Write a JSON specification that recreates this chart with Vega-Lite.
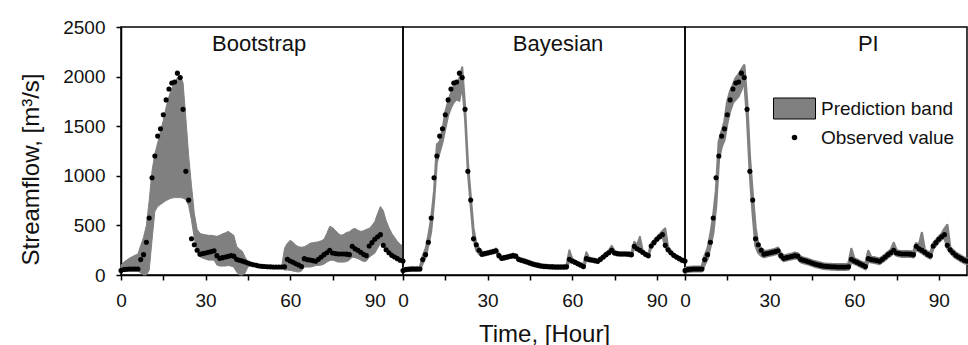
{
"$schema": "https://vega.github.io/schema/vega-lite/v6.json",
"padding": {"left": 18, "top": 17, "right": 2, "bottom": 0},
"data": {"values": [
{"m":"Bootstrap","h":0,"o":45,"lo":30,"hi":100},{"m":"Bootstrap","h":1,"o":55,"lo":35,"hi":130},{"m":"Bootstrap","h":2,"o":58,"lo":40,"hi":150},{"m":"Bootstrap","h":3,"o":60,"lo":40,"hi":170},{"m":"Bootstrap","h":4,"o":60,"lo":40,"hi":185},{"m":"Bootstrap","h":5,"o":60,"lo":40,"hi":200},{"m":"Bootstrap","h":6,"o":60,"lo":40,"hi":210},{"m":"Bootstrap","h":7,"o":155,"lo":20,"hi":300},{"m":"Bootstrap","h":8,"o":205,"lo":0,"hi":380},{"m":"Bootstrap","h":9,"o":330,"lo":0,"hi":500},
{"m":"Bootstrap","h":10,"o":575,"lo":50,"hi":750},{"m":"Bootstrap","h":11,"o":980,"lo":350,"hi":1050},{"m":"Bootstrap","h":12,"o":1200,"lo":640,"hi":1220},{"m":"Bootstrap","h":13,"o":1400,"lo":690,"hi":1330},{"m":"Bootstrap","h":14,"o":1475,"lo":710,"hi":1450},{"m":"Bootstrap","h":15,"o":1615,"lo":730,"hi":1560},{"m":"Bootstrap","h":16,"o":1765,"lo":750,"hi":1690},{"m":"Bootstrap","h":17,"o":1875,"lo":765,"hi":1800},{"m":"Bootstrap","h":18,"o":1935,"lo":775,"hi":1880},{"m":"Bootstrap","h":19,"o":1945,"lo":780,"hi":1940},
{"m":"Bootstrap","h":20,"o":2035,"lo":780,"hi":1990},{"m":"Bootstrap","h":21,"o":1990,"lo":780,"hi":2000},{"m":"Bootstrap","h":22,"o":1670,"lo":775,"hi":1940},{"m":"Bootstrap","h":23,"o":1045,"lo":760,"hi":1580},{"m":"Bootstrap","h":24,"o":755,"lo":700,"hi":1200},{"m":"Bootstrap","h":25,"o":365,"lo":550,"hi":900},{"m":"Bootstrap","h":26,"o":305,"lo":370,"hi":620},{"m":"Bootstrap","h":27,"o":250,"lo":240,"hi":460},{"m":"Bootstrap","h":28,"o":210,"lo":185,"hi":420},{"m":"Bootstrap","h":29,"o":215,"lo":170,"hi":410},
{"m":"Bootstrap","h":30,"o":222,"lo":160,"hi":405},{"m":"Bootstrap","h":31,"o":229,"lo":150,"hi":400},{"m":"Bootstrap","h":32,"o":236,"lo":150,"hi":400},{"m":"Bootstrap","h":33,"o":245,"lo":150,"hi":395},{"m":"Bootstrap","h":34,"o":195,"lo":100,"hi":390},{"m":"Bootstrap","h":35,"o":168,"lo":90,"hi":400},{"m":"Bootstrap","h":36,"o":175,"lo":90,"hi":415},{"m":"Bootstrap","h":37,"o":182,"lo":90,"hi":425},{"m":"Bootstrap","h":38,"o":188,"lo":95,"hi":440},{"m":"Bootstrap","h":39,"o":195,"lo":90,"hi":420},
{"m":"Bootstrap","h":40,"o":190,"lo":80,"hi":400},{"m":"Bootstrap","h":41,"o":158,"lo":30,"hi":290},{"m":"Bootstrap","h":42,"o":148,"lo":0,"hi":260},{"m":"Bootstrap","h":43,"o":140,"lo":0,"hi":240},{"m":"Bootstrap","h":44,"o":131,"lo":20,"hi":180},{"m":"Bootstrap","h":45,"o":121,"lo":80,"hi":135},{"m":"Bootstrap","h":46,"o":111,"lo":100,"hi":120},{"m":"Bootstrap","h":47,"o":104,"lo":96,"hi":112},{"m":"Bootstrap","h":48,"o":97,"lo":90,"hi":104},{"m":"Bootstrap","h":49,"o":90,"lo":84,"hi":96},
{"m":"Bootstrap","h":50,"o":87,"lo":81,"hi":93},{"m":"Bootstrap","h":51,"o":85,"lo":79,"hi":91},{"m":"Bootstrap","h":52,"o":83,"lo":77,"hi":89},{"m":"Bootstrap","h":53,"o":82,"lo":76,"hi":88},{"m":"Bootstrap","h":54,"o":81,"lo":75,"hi":87},{"m":"Bootstrap","h":55,"o":81,"lo":75,"hi":87},{"m":"Bootstrap","h":56,"o":81,"lo":75,"hi":87},{"m":"Bootstrap","h":57,"o":81,"lo":75,"hi":90},{"m":"Bootstrap","h":58,"o":82,"lo":50,"hi":270},{"m":"Bootstrap","h":59,"o":158,"lo":50,"hi":320},
{"m":"Bootstrap","h":60,"o":141,"lo":47,"hi":350},{"m":"Bootstrap","h":61,"o":128,"lo":40,"hi":330},{"m":"Bootstrap","h":62,"o":114,"lo":35,"hi":300},{"m":"Bootstrap","h":63,"o":101,"lo":30,"hi":285},{"m":"Bootstrap","h":64,"o":85,"lo":40,"hi":280},{"m":"Bootstrap","h":65,"o":165,"lo":80,"hi":285},{"m":"Bootstrap","h":66,"o":155,"lo":80,"hi":300},{"m":"Bootstrap","h":67,"o":151,"lo":80,"hi":320},{"m":"Bootstrap","h":68,"o":145,"lo":85,"hi":325},{"m":"Bootstrap","h":69,"o":138,"lo":95,"hi":330},
{"m":"Bootstrap","h":70,"o":158,"lo":97,"hi":335},{"m":"Bootstrap","h":71,"o":181,"lo":100,"hi":345},{"m":"Bootstrap","h":72,"o":205,"lo":110,"hi":360},{"m":"Bootstrap","h":73,"o":225,"lo":130,"hi":420},{"m":"Bootstrap","h":74,"o":249,"lo":145,"hi":490},{"m":"Bootstrap","h":75,"o":222,"lo":150,"hi":480},{"m":"Bootstrap","h":76,"o":215,"lo":140,"hi":450},{"m":"Bootstrap","h":77,"o":212,"lo":130,"hi":420},{"m":"Bootstrap","h":78,"o":212,"lo":130,"hi":400},{"m":"Bootstrap","h":79,"o":212,"lo":130,"hi":410},
{"m":"Bootstrap","h":80,"o":210,"lo":135,"hi":430},{"m":"Bootstrap","h":81,"o":205,"lo":150,"hi":435},{"m":"Bootstrap","h":82,"o":289,"lo":180,"hi":460},{"m":"Bootstrap","h":83,"o":265,"lo":175,"hi":470},{"m":"Bootstrap","h":84,"o":249,"lo":165,"hi":450},{"m":"Bootstrap","h":85,"o":229,"lo":150,"hi":440},{"m":"Bootstrap","h":86,"o":208,"lo":135,"hi":445},{"m":"Bootstrap","h":87,"o":195,"lo":140,"hi":460},{"m":"Bootstrap","h":88,"o":292,"lo":180,"hi":470},{"m":"Bootstrap","h":89,"o":326,"lo":200,"hi":500},
{"m":"Bootstrap","h":90,"o":360,"lo":220,"hi":540},{"m":"Bootstrap","h":91,"o":386,"lo":270,"hi":620},{"m":"Bootstrap","h":92,"o":407,"lo":320,"hi":690},{"m":"Bootstrap","h":93,"o":299,"lo":300,"hi":650},{"m":"Bootstrap","h":94,"o":255,"lo":250,"hi":550},{"m":"Bootstrap","h":95,"o":225,"lo":220,"hi":480},{"m":"Bootstrap","h":96,"o":198,"lo":190,"hi":420},{"m":"Bootstrap","h":97,"o":181,"lo":170,"hi":380},{"m":"Bootstrap","h":98,"o":165,"lo":155,"hi":340},{"m":"Bootstrap","h":99,"o":148,"lo":140,"hi":310},{"m":"Bootstrap","h":100,"o":140,"lo":130,"hi":290},

{"m":"Bayesian","h":0,"o":45,"lo":27,"hi":63},{"m":"Bayesian","h":1,"o":55,"lo":37,"hi":73},{"m":"Bayesian","h":2,"o":58,"lo":40,"hi":76},{"m":"Bayesian","h":3,"o":60,"lo":42,"hi":78},{"m":"Bayesian","h":4,"o":60,"lo":42,"hi":78},{"m":"Bayesian","h":5,"o":60,"lo":42,"hi":78},{"m":"Bayesian","h":6,"o":60,"lo":42,"hi":82},{"m":"Bayesian","h":7,"o":155,"lo":115,"hi":195},{"m":"Bayesian","h":8,"o":205,"lo":175,"hi":265},{"m":"Bayesian","h":9,"o":330,"lo":295,"hi":405},
{"m":"Bayesian","h":10,"o":575,"lo":435,"hi":575},{"m":"Bayesian","h":11,"o":980,"lo":725,"hi":845},{"m":"Bayesian","h":12,"o":1200,"lo":1135,"hi":1315},{"m":"Bayesian","h":13,"o":1400,"lo":1235,"hi":1345},{"m":"Bayesian","h":14,"o":1475,"lo":1335,"hi":1465},{"m":"Bayesian","h":15,"o":1615,"lo":1475,"hi":1645},{"m":"Bayesian","h":16,"o":1765,"lo":1605,"hi":1750},{"m":"Bayesian","h":17,"o":1875,"lo":1685,"hi":1835},{"m":"Bayesian","h":18,"o":1935,"lo":1740,"hi":1900},{"m":"Bayesian","h":19,"o":1945,"lo":1770,"hi":1920},
{"m":"Bayesian","h":20,"o":2035,"lo":1755,"hi":1985},{"m":"Bayesian","h":21,"o":1990,"lo":1905,"hi":2095},{"m":"Bayesian","h":22,"o":1670,"lo":1570,"hi":1715},{"m":"Bayesian","h":23,"o":1045,"lo":1030,"hi":1145},{"m":"Bayesian","h":24,"o":755,"lo":695,"hi":810},{"m":"Bayesian","h":25,"o":365,"lo":360,"hi":475},{"m":"Bayesian","h":26,"o":305,"lo":245,"hi":320},{"m":"Bayesian","h":27,"o":250,"lo":210,"hi":270},{"m":"Bayesian","h":28,"o":210,"lo":190,"hi":237},{"m":"Bayesian","h":29,"o":215,"lo":197,"hi":233},
{"m":"Bayesian","h":30,"o":222,"lo":204,"hi":240},{"m":"Bayesian","h":31,"o":229,"lo":211,"hi":247},{"m":"Bayesian","h":32,"o":236,"lo":218,"hi":254},{"m":"Bayesian","h":33,"o":245,"lo":227,"hi":268},{"m":"Bayesian","h":34,"o":195,"lo":177,"hi":221},{"m":"Bayesian","h":35,"o":168,"lo":150,"hi":188},{"m":"Bayesian","h":36,"o":175,"lo":157,"hi":193},{"m":"Bayesian","h":37,"o":182,"lo":164,"hi":200},{"m":"Bayesian","h":38,"o":188,"lo":170,"hi":206},{"m":"Bayesian","h":39,"o":195,"lo":177,"hi":216},
{"m":"Bayesian","h":40,"o":190,"lo":172,"hi":208},{"m":"Bayesian","h":41,"o":158,"lo":140,"hi":178},{"m":"Bayesian","h":42,"o":148,"lo":130,"hi":166},{"m":"Bayesian","h":43,"o":140,"lo":122,"hi":158},{"m":"Bayesian","h":44,"o":131,"lo":113,"hi":149},{"m":"Bayesian","h":45,"o":121,"lo":103,"hi":139},{"m":"Bayesian","h":46,"o":111,"lo":93,"hi":129},{"m":"Bayesian","h":47,"o":104,"lo":86,"hi":122},{"m":"Bayesian","h":48,"o":97,"lo":79,"hi":115},{"m":"Bayesian","h":49,"o":90,"lo":72,"hi":108},
{"m":"Bayesian","h":50,"o":87,"lo":69,"hi":105},{"m":"Bayesian","h":51,"o":85,"lo":67,"hi":103},{"m":"Bayesian","h":52,"o":83,"lo":65,"hi":101},{"m":"Bayesian","h":53,"o":82,"lo":64,"hi":100},{"m":"Bayesian","h":54,"o":81,"lo":63,"hi":99},{"m":"Bayesian","h":55,"o":81,"lo":63,"hi":99},{"m":"Bayesian","h":56,"o":81,"lo":63,"hi":99},{"m":"Bayesian","h":57,"o":81,"lo":63,"hi":99},{"m":"Bayesian","h":58,"o":82,"lo":64,"hi":105},{"m":"Bayesian","h":59,"o":158,"lo":135,"hi":250},
{"m":"Bayesian","h":60,"o":141,"lo":123,"hi":165},{"m":"Bayesian","h":61,"o":128,"lo":110,"hi":146},{"m":"Bayesian","h":62,"o":114,"lo":96,"hi":132},{"m":"Bayesian","h":63,"o":101,"lo":83,"hi":119},{"m":"Bayesian","h":64,"o":85,"lo":67,"hi":106},{"m":"Bayesian","h":65,"o":165,"lo":145,"hi":230},{"m":"Bayesian","h":66,"o":155,"lo":137,"hi":176},{"m":"Bayesian","h":67,"o":151,"lo":133,"hi":169},{"m":"Bayesian","h":68,"o":145,"lo":127,"hi":163},{"m":"Bayesian","h":69,"o":138,"lo":120,"hi":156},
{"m":"Bayesian","h":70,"o":158,"lo":140,"hi":178},{"m":"Bayesian","h":71,"o":181,"lo":163,"hi":201},{"m":"Bayesian","h":72,"o":205,"lo":187,"hi":226},{"m":"Bayesian","h":73,"o":225,"lo":207,"hi":250},{"m":"Bayesian","h":74,"o":249,"lo":231,"hi":295},{"m":"Bayesian","h":75,"o":222,"lo":204,"hi":246},{"m":"Bayesian","h":76,"o":215,"lo":197,"hi":233},{"m":"Bayesian","h":77,"o":212,"lo":194,"hi":230},{"m":"Bayesian","h":78,"o":212,"lo":194,"hi":230},{"m":"Bayesian","h":79,"o":212,"lo":194,"hi":230},
{"m":"Bayesian","h":80,"o":210,"lo":192,"hi":228},{"m":"Bayesian","h":81,"o":205,"lo":187,"hi":226},{"m":"Bayesian","h":82,"o":289,"lo":269,"hi":335},{"m":"Bayesian","h":83,"o":265,"lo":247,"hi":305},{"m":"Bayesian","h":84,"o":249,"lo":231,"hi":385},{"m":"Bayesian","h":85,"o":229,"lo":211,"hi":250},{"m":"Bayesian","h":86,"o":208,"lo":190,"hi":226},{"m":"Bayesian","h":87,"o":195,"lo":177,"hi":216},{"m":"Bayesian","h":88,"o":292,"lo":272,"hi":316},{"m":"Bayesian","h":89,"o":326,"lo":306,"hi":351},
{"m":"Bayesian","h":90,"o":360,"lo":340,"hi":384},{"m":"Bayesian","h":91,"o":386,"lo":366,"hi":411},{"m":"Bayesian","h":92,"o":407,"lo":387,"hi":446},{"m":"Bayesian","h":93,"o":299,"lo":281,"hi":470},{"m":"Bayesian","h":94,"o":255,"lo":237,"hi":286},{"m":"Bayesian","h":95,"o":225,"lo":207,"hi":246},{"m":"Bayesian","h":96,"o":198,"lo":180,"hi":216},{"m":"Bayesian","h":97,"o":181,"lo":163,"hi":199},{"m":"Bayesian","h":98,"o":165,"lo":147,"hi":183},{"m":"Bayesian","h":99,"o":148,"lo":130,"hi":166},{"m":"Bayesian","h":100,"o":140,"lo":122,"hi":158},

{"m":"PI","h":0,"o":45,"lo":22,"hi":68},{"m":"PI","h":1,"o":55,"lo":32,"hi":78},{"m":"PI","h":2,"o":58,"lo":35,"hi":81},{"m":"PI","h":3,"o":60,"lo":37,"hi":83},{"m":"PI","h":4,"o":60,"lo":37,"hi":83},{"m":"PI","h":5,"o":60,"lo":37,"hi":83},{"m":"PI","h":6,"o":60,"lo":37,"hi":87},{"m":"PI","h":7,"o":155,"lo":105,"hi":195},{"m":"PI","h":8,"o":205,"lo":165,"hi":265},{"m":"PI","h":9,"o":330,"lo":285,"hi":405},
{"m":"PI","h":10,"o":575,"lo":425,"hi":585},{"m":"PI","h":11,"o":980,"lo":695,"hi":845},{"m":"PI","h":12,"o":1200,"lo":1165,"hi":1345},{"m":"PI","h":13,"o":1400,"lo":1295,"hi":1445},{"m":"PI","h":14,"o":1475,"lo":1365,"hi":1545},{"m":"PI","h":15,"o":1615,"lo":1535,"hi":1745},{"m":"PI","h":16,"o":1765,"lo":1655,"hi":1850},{"m":"PI","h":17,"o":1875,"lo":1740,"hi":1915},{"m":"PI","h":18,"o":1935,"lo":1770,"hi":1985},{"m":"PI","h":19,"o":1945,"lo":1805,"hi":2020},
{"m":"PI","h":20,"o":2035,"lo":1870,"hi":2070},{"m":"PI","h":21,"o":1990,"lo":1970,"hi":2115},{"m":"PI","h":22,"o":1670,"lo":1600,"hi":1750},{"m":"PI","h":23,"o":1045,"lo":1030,"hi":1180},{"m":"PI","h":24,"o":755,"lo":630,"hi":810},{"m":"PI","h":25,"o":365,"lo":295,"hi":475},{"m":"PI","h":26,"o":305,"lo":225,"hi":305},{"m":"PI","h":27,"o":250,"lo":195,"hi":270},{"m":"PI","h":28,"o":210,"lo":180,"hi":245},{"m":"PI","h":29,"o":215,"lo":188,"hi":242},
{"m":"PI","h":30,"o":222,"lo":195,"hi":249},{"m":"PI","h":31,"o":229,"lo":202,"hi":256},{"m":"PI","h":32,"o":236,"lo":209,"hi":263},{"m":"PI","h":33,"o":245,"lo":218,"hi":275},{"m":"PI","h":34,"o":195,"lo":168,"hi":222},{"m":"PI","h":35,"o":168,"lo":141,"hi":195},{"m":"PI","h":36,"o":175,"lo":148,"hi":202},{"m":"PI","h":37,"o":182,"lo":155,"hi":209},{"m":"PI","h":38,"o":188,"lo":161,"hi":215},{"m":"PI","h":39,"o":195,"lo":168,"hi":225},
{"m":"PI","h":40,"o":190,"lo":163,"hi":217},{"m":"PI","h":41,"o":158,"lo":131,"hi":185},{"m":"PI","h":42,"o":148,"lo":121,"hi":175},{"m":"PI","h":43,"o":140,"lo":113,"hi":167},{"m":"PI","h":44,"o":131,"lo":104,"hi":158},{"m":"PI","h":45,"o":121,"lo":94,"hi":148},{"m":"PI","h":46,"o":111,"lo":84,"hi":138},{"m":"PI","h":47,"o":104,"lo":77,"hi":131},{"m":"PI","h":48,"o":97,"lo":70,"hi":124},{"m":"PI","h":49,"o":90,"lo":63,"hi":117},
{"m":"PI","h":50,"o":87,"lo":60,"hi":114},{"m":"PI","h":51,"o":85,"lo":58,"hi":112},{"m":"PI","h":52,"o":83,"lo":56,"hi":110},{"m":"PI","h":53,"o":82,"lo":55,"hi":109},{"m":"PI","h":54,"o":81,"lo":54,"hi":108},{"m":"PI","h":55,"o":81,"lo":54,"hi":108},{"m":"PI","h":56,"o":81,"lo":54,"hi":108},{"m":"PI","h":57,"o":81,"lo":54,"hi":108},{"m":"PI","h":58,"o":82,"lo":55,"hi":115},{"m":"PI","h":59,"o":158,"lo":131,"hi":262},
{"m":"PI","h":60,"o":141,"lo":114,"hi":168},{"m":"PI","h":61,"o":128,"lo":101,"hi":155},{"m":"PI","h":62,"o":114,"lo":87,"hi":141},{"m":"PI","h":63,"o":101,"lo":74,"hi":128},{"m":"PI","h":64,"o":85,"lo":58,"hi":115},{"m":"PI","h":65,"o":165,"lo":138,"hi":242},{"m":"PI","h":66,"o":155,"lo":128,"hi":182},{"m":"PI","h":67,"o":151,"lo":124,"hi":178},{"m":"PI","h":68,"o":145,"lo":118,"hi":172},{"m":"PI","h":69,"o":138,"lo":111,"hi":165},
{"m":"PI","h":70,"o":158,"lo":131,"hi":185},{"m":"PI","h":71,"o":181,"lo":154,"hi":208},{"m":"PI","h":72,"o":205,"lo":178,"hi":232},{"m":"PI","h":73,"o":225,"lo":198,"hi":255},{"m":"PI","h":74,"o":249,"lo":222,"hi":323},{"m":"PI","h":75,"o":222,"lo":195,"hi":249},{"m":"PI","h":76,"o":215,"lo":188,"hi":242},{"m":"PI","h":77,"o":212,"lo":185,"hi":239},{"m":"PI","h":78,"o":212,"lo":185,"hi":239},{"m":"PI","h":79,"o":212,"lo":185,"hi":239},
{"m":"PI","h":80,"o":210,"lo":183,"hi":237},{"m":"PI","h":81,"o":205,"lo":178,"hi":235},{"m":"PI","h":82,"o":289,"lo":262,"hi":320},{"m":"PI","h":83,"o":265,"lo":238,"hi":305},{"m":"PI","h":84,"o":249,"lo":222,"hi":423},{"m":"PI","h":85,"o":229,"lo":202,"hi":256},{"m":"PI","h":86,"o":208,"lo":181,"hi":235},{"m":"PI","h":87,"o":195,"lo":168,"hi":222},{"m":"PI","h":88,"o":292,"lo":265,"hi":319},{"m":"PI","h":89,"o":326,"lo":299,"hi":353},
{"m":"PI","h":90,"o":360,"lo":333,"hi":387},{"m":"PI","h":91,"o":386,"lo":359,"hi":415},{"m":"PI","h":92,"o":407,"lo":380,"hi":465},{"m":"PI","h":93,"o":299,"lo":272,"hi":504},{"m":"PI","h":94,"o":255,"lo":228,"hi":282},{"m":"PI","h":95,"o":225,"lo":198,"hi":252},{"m":"PI","h":96,"o":198,"lo":171,"hi":225},{"m":"PI","h":97,"o":181,"lo":154,"hi":208},{"m":"PI","h":98,"o":165,"lo":138,"hi":192},{"m":"PI","h":99,"o":148,"lo":121,"hi":175},{"m":"PI","h":100,"o":140,"lo":113,"hi":167}
]},
"spacing": 0,
"bounds": "flush",
"hconcat": [
  {
    "width": 282, "height": 248,
    "transform": [{"filter": "datum.m == 'Bootstrap'"}],
    "layer": [
      {"mark": {"type": "area", "color": "#808080", "stroke": "#808080", "strokeWidth": 1},
       "encoding": {
        "x": {"field": "h", "type": "quantitative", "title": null, "scale": {"domain": [0, 100], "nice": false}, "axis": {"values": [0, 15, 30, 45, 60, 75, 90], "labelExpr": "datum.value % 30 == 0 ? datum.label : ''", "labelFlush": false}},
        "y": {"field": "hi", "type": "quantitative", "title": "Streamflow, [m³/s]", "scale": {"domain": [0, 2500], "nice": false}, "axis": {"values": [0, 250, 500, 750, 1000, 1250, 1500, 1750, 2000, 2250, 2500], "format": "d", "labelExpr": "datum.value % 500 == 0 ? datum.label : ''", "titleY": 142, "titlePadding": 19}},
        "y2": {"field": "lo"}}},
      {"mark": {"type": "point", "filled": true, "size": 26, "opacity": 1, "color": "#000"},
       "encoding": {
        "x": {"field": "h", "type": "quantitative", "title": null},
        "y": {"field": "o", "type": "quantitative", "title": "Streamflow, [m³/s]"}}},
      {"transform": [{"filter": "datum.h == 0"}],
       "mark": {"type": "text", "fontSize": 22, "color": "#111", "baseline": "middle", "align": "center"},
       "encoding": {
        "x": {"datum": 49, "type": "quantitative", "title": null},
        "y": {"datum": 2330, "type": "quantitative", "title": "Streamflow, [m³/s]"},
        "text": {"field": "m"}}}
    ]
  },
  {
    "width": 282, "height": 248,
    "transform": [{"filter": "datum.m == 'Bayesian'"}],
    "layer": [
      {"mark": {"type": "area", "color": "#808080", "stroke": "#808080", "strokeWidth": 2, "strokeJoin": "round"},
       "encoding": {
        "x": {"field": "h", "type": "quantitative", "title": "Time, [Hour]", "scale": {"domain": [0, 100], "nice": false}, "axis": {"values": [0, 15, 30, 45, 60, 75, 90], "labelExpr": "datum.value % 30 == 0 ? datum.label : ''", "labelFlush": false}},
        "y": {"field": "hi", "type": "quantitative", "scale": {"domain": [0, 2500], "nice": false}, "axis": null},
        "y2": {"field": "lo"}}},
      {"mark": {"type": "point", "filled": true, "size": 26, "opacity": 1, "color": "#000"},
       "encoding": {
        "x": {"field": "h", "type": "quantitative", "title": "Time, [Hour]"},
        "y": {"field": "o", "type": "quantitative", "axis": null}}},
      {"transform": [{"filter": "datum.h == 0"}],
       "mark": {"type": "text", "fontSize": 22, "color": "#111", "baseline": "middle", "align": "center"},
       "encoding": {
        "x": {"datum": 55, "type": "quantitative", "title": "Time, [Hour]"},
        "y": {"datum": 2330, "type": "quantitative", "axis": null},
        "text": {"field": "m"}}}
    ]
  },
  {
    "width": 282, "height": 248,
    "transform": [{"filter": "datum.m == 'PI'"}],
    "layer": [
      {"mark": {"type": "area", "color": "#808080", "stroke": "#808080", "strokeWidth": 2.5, "strokeJoin": "round"},
       "encoding": {
        "x": {"field": "h", "type": "quantitative", "title": null, "scale": {"domain": [0, 100], "nice": false}, "axis": {"values": [0, 15, 30, 45, 60, 75, 90], "labelExpr": "datum.value % 30 == 0 ? datum.label : ''", "labelFlush": false}},
        "y": {"field": "hi", "type": "quantitative", "scale": {"domain": [0, 2500], "nice": false}, "axis": null},
        "y2": {"field": "lo"}}},
      {"mark": {"type": "area"},
       "encoding": {
        "x": {"field": "h", "type": "quantitative", "title": null},
        "y": {"field": "hi", "type": "quantitative", "axis": null},
        "y2": {"field": "lo"},
        "color": {"datum": "Prediction band", "type": "nominal",
          "scale": {"domain": ["Prediction band", "Observed value"], "range": ["#808080", "#000000"]},
          "legend": {
            "orient": "none", "legendX": 664, "legendY": 72, "title": null,
            "labelFontSize": 19, "labelColor": "#111", "labelOffset": 17,
            "symbolSize": 441, "rowPadding": 7,
            "encode": {"symbols": {"update": {
              "shape": {"signal": "datum.label == 'Prediction band' ? 'M-2,-1H2V1H-2Z' : 'circle'"},
              "size": {"signal": "datum.label == 'Prediction band' ? 441 : 30"},
              "stroke": {"value": "#000"},
              "strokeWidth": {"signal": "datum.label == 'Prediction band' ? 1 : 0"},
              "opacity": {"value": 1}
            }}}
          }}}},
      {"mark": {"type": "point", "filled": true, "size": 26, "opacity": 1},
       "encoding": {
        "x": {"field": "h", "type": "quantitative", "title": null},
        "y": {"field": "o", "type": "quantitative", "axis": null},
        "color": {"datum": "Observed value", "type": "nominal"}}},
      {"transform": [{"filter": "datum.h == 0"}],
       "mark": {"type": "text", "fontSize": 22, "color": "#111", "baseline": "middle", "align": "center"},
       "encoding": {
        "x": {"datum": 65, "type": "quantitative", "title": null},
        "y": {"datum": 2330, "type": "quantitative", "axis": null},
        "text": {"field": "m"}}}
    ]
  }
],
"config": {
  "font": "Liberation Sans",
  "view": {"stroke": "#000", "strokeWidth": 1.5},
  "axis": {"domainColor": "#000", "domainWidth": 1.5, "tickColor": "#000", "tickWidth": 1.5, "tickSize": 5, "labelFontSize": 19, "labelColor": "#111", "labelPadding": 11, "titleFontSize": 24, "titleFontWeight": "normal", "titleColor": "#111", "titlePadding": 12, "grid": false}
}
}
